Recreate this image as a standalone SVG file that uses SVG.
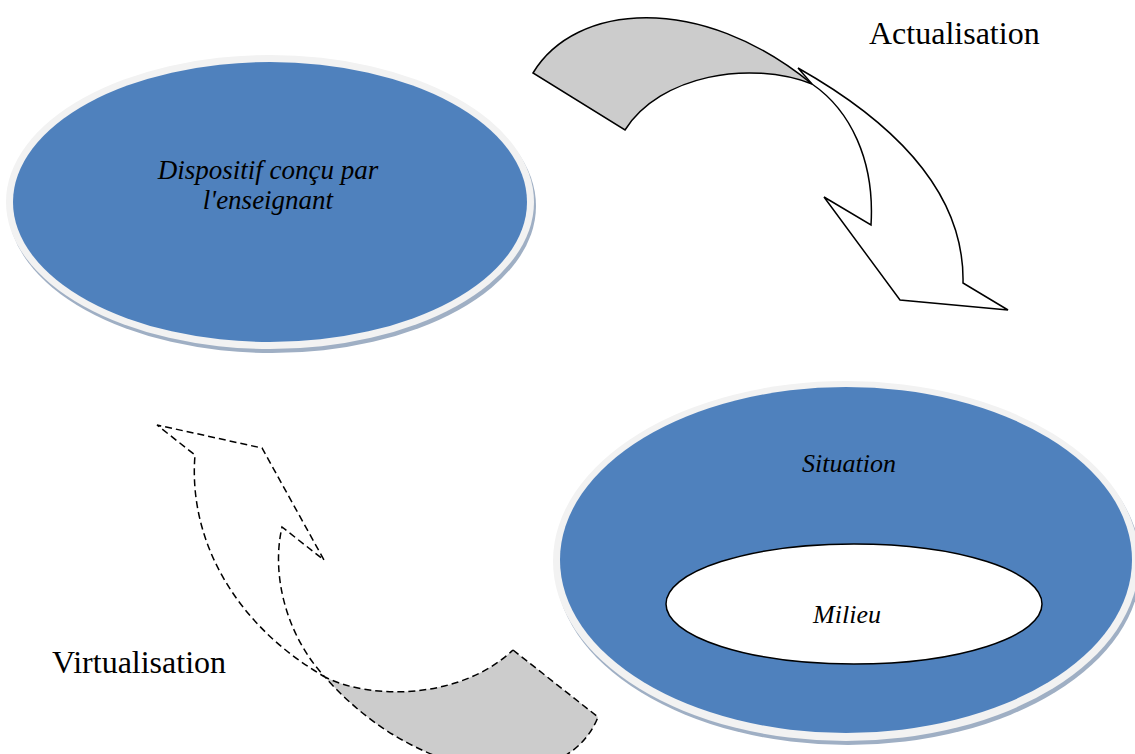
<svg xmlns="http://www.w3.org/2000/svg" width="1135" height="754" viewBox="0 0 1135 754">
<style>
.shadow{fill:#9fafc4}
.rim{fill:#f2f2f2}
.blue{fill:#4f81bd}
.lbl{font-family:"Liberation Serif","Times New Roman",serif;font-style:italic;font-size:26px;fill:#000;text-anchor:middle}
.cap{font-family:"Liberation Serif","Times New Roman",serif;font-size:32px;fill:#000}
.solid{stroke:#000;stroke-width:1.5;stroke-linejoin:miter}
.dash{stroke:#000;stroke-width:1.5;stroke-dasharray:7,4;fill:none}
.gray{fill:#cccccc}
</style>
<rect width="1135" height="754" fill="#ffffff"/>
<g id="dispositif">
<ellipse class="shadow" cx="272" cy="206" rx="264" ry="147"/>
<ellipse class="rim" cx="270" cy="202" rx="264" ry="147"/>
<ellipse class="blue" cx="270" cy="202" rx="257" ry="140"/>
<text class="lbl" x="268" y="179" style="font-size:27px">Dispositif conçu par</text>
<text class="lbl" x="268" y="209" style="font-size:27px">l'enseignant</text>
</g>
<g id="situation">
<ellipse class="shadow" cx="848" cy="565" rx="293" ry="180"/>
<ellipse class="rim" cx="846" cy="561" rx="293" ry="180"/>
<ellipse class="blue" cx="846" cy="560" rx="286" ry="173"/>
<text class="lbl" x="849" y="472">Situation</text>
</g>
<g id="milieu">
<ellipse cx="854" cy="604" rx="188" ry="60" fill="#ffffff" stroke="#000" stroke-width="1.5"/>
<text class="lbl" x="847" y="623">Milieu</text>
</g>
<g id="connectors">
<g id="actualisation-arrow">
<path class="solid" fill="#ffffff" d="M798,68 C890,120 965,190 963,283 L1008,310 L900,300 L824,197 L871,225 C875,160 850,110 812,84 Z"/>
<path class="solid gray" d="M533,73 C575,3 700,-8 812,84 C750,60 660,75 625,130 Z"/>
</g>
<g id="virtualisation-arrow">
<path class="gray" d="M513,650 L598,717 C565,800 420,785 325,677 C370,700 460,700 513,650 Z"/>
<path class="dash" d="M513,650 L598,717 C565,800 420,785 325,677 C235,625 188,540 195,455 L157,425 L262,448 L324,560 L282,527 C270,580 290,640 325,677 C370,700 460,700 513,650"/>
</g>
</g>
<text class="cap" x="869" y="44">Actualisation</text>
<text class="cap" x="52" y="673">Virtualisation</text>
</svg>
